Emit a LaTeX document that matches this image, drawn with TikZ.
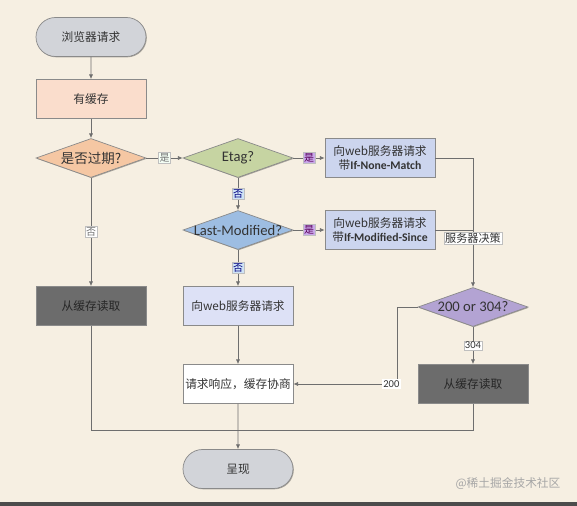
\documentclass[tikz,border=0pt]{standalone}
\usepackage{fontspec}
\setmainfont{Noto Sans CJK SC}
\newfontfamily\lat{Carlito}
\newfontfamily\cjk{Noto Sans CJK SC}
\usetikzlibrary{shapes.geometric,shapes.misc,arrows.meta,shadows}
\definecolor{paper}{HTML}{F6EFE2}
\definecolor{boxline}{HTML}{8A8A8A}
\definecolor{wirecol}{HTML}{6E6E6E}
\definecolor{termfill}{HTML}{D2D4D9}
\definecolor{peach}{HTML}{FADDCC}
\definecolor{orangefill}{HTML}{F5C7A3}
\definecolor{greenfill}{HTML}{C6D4A2}
\definecolor{bluebox}{HTML}{CCD5EE}
\definecolor{bluedia}{HTML}{9DBDE2}
\definecolor{lavender}{HTML}{DDE1F6}
\definecolor{purplefill}{HTML}{B3A3D3}
\definecolor{darkbox}{HTML}{6C6C6C}
\definecolor{tagpurple}{HTML}{C9A8EA}
\definecolor{tagblue}{HTML}{CFE3F5}
\begin{document}
\begin{tikzpicture}[x=0.03cm, y=-0.03cm,
  every node/.style={font=\fontsize{10}{12.5}\selectfont, text=black!80},
  box/.style={draw=boxline, line width=0.6pt, minimum width=3.3cm, minimum height=1.17cm,
    inner sep=0pt, align=center,
    drop shadow={shadow xshift=0.7pt, shadow yshift=-0.7pt, opacity=0.3, fill=black}},
  term/.style={box, rounded rectangle},
  dia/.style={box, diamond, aspect=2.8, font=\lat\fontsize{12.5}{14}\selectfont},
  wire/.style={draw=wirecol, line width=0.6pt},
  arr/.style={wire, -{Latex[length=4pt,width=3.5pt]}},
  tag/.style={font=\fontsize{8.5}{9}\selectfont, inner sep=1pt, fill=white,
    draw=black!25, line width=0.3pt}]
  % paper
  \fill[paper] (0,0) rectangle (577,506);
  \useasboundingbox (0,0) rectangle (577,506);
  \fill[black!70] (0,502) rectangle (577,506);

  % left column
  \node[term, fill=termfill] (start) at (91,37) {浏览器请求};
  \node[box, fill=peach] (cache) at (91,99) {有缓存};
  \node[dia, fill=orangefill] (expired) at (91,158) {\makebox[0pt]{\cjk\fontsize{11.5}{13}\selectfont 是否过期?}};
  \node[box, fill=darkbox, text=black!85] (readL) at (91,306) {从缓存读取};

  % middle column
  \node[dia, fill=greenfill] (etag) at (238,158) {\makebox[0pt]{Etag?}};
  \node[dia, fill=bluedia] (lastmod) at (238,230) {\makebox[0pt]{Last-Modified?}};
  \node[box, fill=lavender] (plain) at (238,306) {向web服务器请求};
  \node[box, fill=white] (reply) at (238,384) {请求响应，缓存协商};
  \node[term, fill=termfill] (show) at (238,469) {呈现};

  % right columns
  \node[box, fill=bluebox] (nonematch) at (380,158) {向web服务器请求\\带{\lat\bfseries If-None-Match}};
  \node[box, fill=bluebox] (modsince) at (380,230) {向web服务器请求\\带{\lat\bfseries If-Modified-Since}};
  \node[dia, fill=purplefill] (status) at (473,307) {\makebox[0pt]{200 or 304?}};
  \node[box, fill=darkbox, text=black!85] (readR) at (473,384) {从缓存读取};

  \coordinate (merge) at (238,430);

  % connectors
  \draw[arr] (start) -- (cache);
  \draw[arr] (cache) -- (expired);
  \draw[arr] (expired) -- node[tag, fill=green!4!white, text=black!55] {是} (etag);
  \draw[arr] (expired) -- node[tag, text=black!55] {否} (readL);
  \draw[arr] (etag) -- node[tag, fill=tagpurple, text=violet!70!black] {是} (nonematch);
  \draw[arr] (etag) -- node[tag, fill=tagblue, text=blue!50!black] {否} (lastmod);
  \draw[arr] (lastmod) -- node[tag, fill=tagpurple, text=violet!70!black] {是} (modsince);
  \draw[arr] (lastmod) -- node[tag, fill=tagblue, text=blue!50!black] {否} (plain);
  \draw[arr] (nonematch.east) -| node[pos=0.81, tag, font=\fontsize{9.5}{10}\selectfont] {服务器决策} (status.north);
  \draw[wire] (modsince.east) -- (modsince.east -| status.north);
  \draw[arr] (status.west) -- ++(-20,0) |- node[pos=0.53, tag, font=\lat\fontsize{9}{10}\selectfont, draw=none] {200} (reply.east);
  \draw[arr] (status) -- node[tag, font=\lat\fontsize{9}{10}\selectfont] {304} (readR);
  \draw[arr] (plain) -- (reply);
  \draw[arr] (reply) -- (show);
  \draw[wire] (readL.south) |- (merge);
  \draw[wire] (readR.south) |- (merge);

  \node[text=black!35, font=\fontsize{10}{12}\selectfont] (mark) at (508,484) {@稀土掘金技术社区};
\end{tikzpicture}
\end{document}
